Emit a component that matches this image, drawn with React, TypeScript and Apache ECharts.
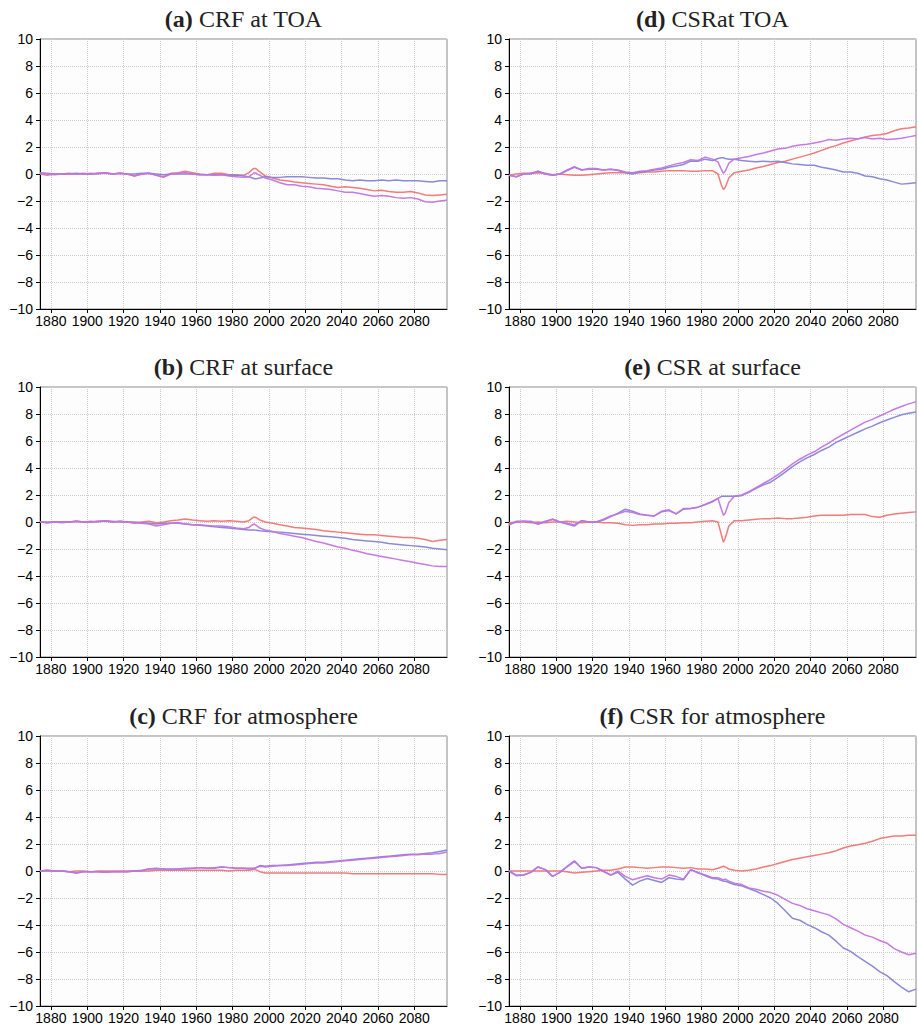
import React, { useEffect, useRef } from "react";
import * as echarts from "echarts";

// Sample years (4-year steps, denser around the 1991 eruption)
const years = [
  1874, 1878, 1882, 1886, 1890, 1894, 1898, 1902, 1906, 1910, 1914, 1918, 1922, 1926, 1930,
  1934, 1938, 1942, 1946, 1950, 1954, 1958, 1962, 1966, 1970, 1974, 1978, 1982, 1986,
  1989, 1991, 1992, 1993, 1995, 1998,
  2002, 2006, 2010, 2014, 2018, 2022, 2026, 2030, 2034, 2038, 2042, 2046, 2050, 2054, 2058,
  2062, 2066, 2070, 2074, 2078, 2082, 2086, 2090, 2094, 2098,
];

const xTicks = [1880, 1900, 1920, 1940, 1960, 1980, 2000, 2020, 2040, 2060, 2080];

const panelLetters = ["(a)", "(b)", "(c)", "(d)", "(e)", "(f)"];
const panelNames = [
  "CRF at TOA",
  "CRF at surface",
  "CRF for atmosphere",
  "CSRat TOA",
  "CSR at surface",
  "CSR for atmosphere",
];

// (a) CRF at TOA
const aRed = [
  0.0, -0.1, 0.0, 0.0, 0.05, 0.0, 0.05, 0.0, 0.05, 0.1, 0.0, 0.05, 0.0, -0.15, 0.0, 0.05, -0.1, -0.2, 0.05, 0.1, 0.2, 0.1, 0.0, -0.05, 0.05, 0.05, -0.05, -0.05, -0.1,
  0.1, 0.35, 0.42, 0.38, 0.15, -0.15,
  -0.3, -0.45, -0.5, -0.6, -0.65, -0.7, -0.75, -0.8, -0.9, -1.0, -0.95, -1.0, -1.05, -1.15, -1.25, -1.2, -1.3, -1.35, -1.35, -1.3, -1.4, -1.55, -1.6, -1.55, -1.5,
];
const aBlue = [
  0.1, 0.05, 0.0, 0.0, 0.0, 0.05, 0.0, 0.0, 0.05, 0.05, 0.0, 0.05, 0.0, 0.0, 0.05, 0.05, 0.0, -0.05, 0.0, 0.0, 0.0, 0.0, -0.05, -0.05, -0.05, -0.05, -0.1, -0.1, -0.15,
  -0.2, -0.3, -0.35, -0.35, -0.3, -0.2,
  -0.25, -0.25, -0.2, -0.2, -0.2, -0.25, -0.3, -0.3, -0.35, -0.35, -0.45, -0.5, -0.45, -0.5, -0.5, -0.45, -0.5, -0.45, -0.5, -0.5, -0.5, -0.55, -0.6, -0.5, -0.5,
];
const aPurple = [
  0.0, 0.0, -0.05, 0.0, 0.0, 0.0, 0.0, 0.05, 0.0, 0.1, 0.0, 0.05, 0.0, -0.15, 0.0, 0.05, -0.1, -0.25, 0.0, 0.05, 0.1, 0.0, -0.05, -0.05, -0.1, -0.05, -0.15, -0.2, -0.25,
  -0.2, 0.0, 0.1, 0.05, -0.1, -0.3,
  -0.45, -0.65, -0.8, -0.8, -0.9, -0.95, -1.05, -1.1, -1.15, -1.25, -1.35, -1.35, -1.45, -1.55, -1.65, -1.6, -1.65, -1.75, -1.8, -1.75, -1.85, -2.05, -2.1, -2.0, -1.95,
];

// (b) CRF at surface
const bRed = [
  0.0, -0.05, 0.0, 0.0, 0.0, 0.05, 0.0, 0.05, 0.0, 0.1, 0.05, 0.0, 0.0, -0.1, 0.0, 0.05, -0.05, 0.0, 0.1, 0.15, 0.22, 0.15, 0.1, 0.05, 0.1, 0.05, 0.1, 0.05, 0.0,
  0.1, 0.3, 0.37, 0.32, 0.15, 0.0,
  -0.1, -0.2, -0.3, -0.4, -0.45, -0.5, -0.55, -0.65, -0.7, -0.75, -0.8, -0.85, -0.9, -0.95, -0.95, -1.0, -1.05, -1.1, -1.15, -1.15, -1.2, -1.3, -1.45, -1.35, -1.3,
];
const bBlue = [
  0.0, 0.0, 0.0, 0.0, 0.0, 0.05, 0.0, 0.0, 0.05, 0.05, 0.0, 0.05, 0.0, 0.0, -0.05, -0.1, -0.15, -0.1, -0.1, -0.1, -0.15, -0.2, -0.25, -0.3, -0.35, -0.4, -0.45, -0.5, -0.55,
  -0.6, -0.6, -0.6, -0.62, -0.65, -0.68,
  -0.72, -0.75, -0.8, -0.85, -0.9, -0.95, -1.0, -1.05, -1.1, -1.15, -1.2, -1.3, -1.35, -1.4, -1.45, -1.5, -1.6, -1.65, -1.7, -1.75, -1.8, -1.85, -1.95, -2.0, -2.05,
];
const bPurple = [
  0.0, -0.05, 0.0, -0.05, 0.0, 0.05, 0.0, 0.0, 0.05, 0.1, 0.0, 0.05, 0.0, -0.05, -0.1, -0.15, -0.3, -0.2, -0.1, -0.05, -0.15, -0.2, -0.2, -0.25, -0.3, -0.3, -0.35, -0.45, -0.5,
  -0.4, -0.2, -0.15, -0.25, -0.45, -0.6,
  -0.7, -0.85, -0.95, -1.05, -1.15, -1.3, -1.45, -1.55, -1.7, -1.85, -1.95, -2.1, -2.2, -2.35, -2.45, -2.55, -2.65, -2.75, -2.85, -2.95, -3.05, -3.15, -3.25, -3.3, -3.3,
];

// (c) CRF for atmosphere
const cRed = [
  0.0, 0.0, 0.0, 0.0, -0.05, 0.0, 0.0, -0.05, 0.0, 0.0, 0.0, 0.0, 0.0, 0.0, 0.0, 0.0, 0.05, 0.05, 0.05, 0.05, 0.05, 0.05, 0.05, 0.05, 0.05, 0.05, 0.0, 0.05, 0.05,
  0.05, 0.1, 0.12, 0.08, -0.05, -0.15,
  -0.15, -0.15, -0.15, -0.15, -0.15, -0.15, -0.15, -0.15, -0.15, -0.15, -0.15, -0.2, -0.2, -0.2, -0.2, -0.2, -0.2, -0.2, -0.2, -0.2, -0.2, -0.2, -0.2, -0.25, -0.25,
];
const cBlue = [
  0.0, 0.05, 0.0, 0.0, -0.05, -0.15, -0.05, -0.05, -0.05, -0.1, -0.05, -0.05, -0.05, 0.0, 0.05, 0.15, 0.2, 0.15, 0.15, 0.15, 0.2, 0.2, 0.25, 0.2, 0.25, 0.3, 0.25, 0.2, 0.2,
  0.2, 0.2, 0.2, 0.25, 0.4, 0.35,
  0.4, 0.4, 0.45, 0.5, 0.55, 0.6, 0.65, 0.65, 0.7, 0.75, 0.8, 0.85, 0.9, 0.95, 1.0, 1.05, 1.1, 1.15, 1.2, 1.25, 1.25, 1.3, 1.35, 1.45, 1.55,
];
const cPurple = [
  0.0, 0.05, 0.0, 0.0, -0.05, -0.15, -0.05, -0.05, -0.05, -0.1, -0.05, -0.05, -0.05, 0.0, 0.0, 0.15, 0.15, 0.15, 0.1, 0.15, 0.15, 0.2, 0.25, 0.2, 0.2, 0.3, 0.25, 0.2, 0.2,
  0.15, 0.15, 0.2, 0.25, 0.35, 0.3,
  0.35, 0.4, 0.4, 0.45, 0.5, 0.55, 0.6, 0.6, 0.65, 0.7, 0.75, 0.8, 0.85, 0.9, 0.95, 1.0, 1.05, 1.1, 1.15, 1.2, 1.2, 1.25, 1.25, 1.3, 1.4,
];

// (d) CSR at TOA
const dRed = [
  -0.1, 0.0, 0.05, 0.05, 0.1, 0.05, -0.05, 0.0, -0.05, -0.1, -0.1, -0.05, 0.0, 0.05, 0.1, 0.1, 0.1, 0.1, 0.1, 0.15, 0.15, 0.2, 0.25, 0.25, 0.25, 0.2, 0.2, 0.25, 0.25,
  0.0, -0.85, -1.15, -1.0, -0.3, 0.1,
  0.2, 0.3, 0.45, 0.55, 0.7, 0.85, 0.95, 1.1, 1.25, 1.4, 1.55, 1.75, 1.95, 2.1, 2.3, 2.45, 2.6, 2.75, 2.85, 2.9, 3.0, 3.2, 3.35, 3.4, 3.5,
];
const dBlue = [
  -0.1, -0.2, 0.0, 0.0, 0.2, 0.0, -0.1, 0.0, 0.25, 0.5, 0.3, 0.35, 0.35, 0.3, 0.35, 0.25, 0.1, 0.0, 0.15, 0.2, 0.3, 0.35, 0.5, 0.6, 0.7, 0.95, 0.95, 1.1, 1.0,
  1.15, 1.2, 1.2, 1.15, 1.1, 1.1,
  1.0, 0.95, 0.9, 0.95, 0.9, 0.95, 0.85, 0.75, 0.7, 0.65, 0.65, 0.5, 0.4, 0.3, 0.15, 0.15, 0.05, -0.15, -0.2, -0.35, -0.45, -0.6, -0.75, -0.7, -0.65,
];
const dPurple = [
  -0.1, -0.2, 0.0, 0.05, 0.2, 0.0, -0.1, 0.0, 0.3, 0.55, 0.3, 0.4, 0.4, 0.3, 0.35, 0.3, 0.15, 0.1, 0.2, 0.25, 0.35, 0.45, 0.6, 0.75, 0.85, 1.05, 1.0, 1.25, 1.1,
  0.9, 0.3, 0.05, 0.2, 0.8, 1.1,
  1.2, 1.3, 1.45, 1.55, 1.7, 1.85, 1.9, 2.05, 2.15, 2.2, 2.3, 2.4, 2.55, 2.5, 2.6, 2.65, 2.6, 2.7, 2.6, 2.65, 2.55, 2.6, 2.65, 2.75, 2.85,
];

// (e) CSR at surface
const eRed = [
  -0.05, 0.0, 0.0, -0.05, 0.0, -0.05, 0.0, 0.0, 0.05, 0.0, -0.05, 0.0, 0.0, -0.05, -0.05, -0.1, -0.2, -0.25, -0.2, -0.2, -0.15, -0.15, -0.1, -0.1, -0.05, -0.05, 0.0, 0.05, 0.1,
  0.0, -1.0, -1.5, -1.2, -0.3, 0.1,
  0.1, 0.15, 0.2, 0.25, 0.25, 0.3, 0.25, 0.25, 0.3, 0.35, 0.45, 0.5, 0.5, 0.5, 0.5, 0.55, 0.55, 0.55, 0.4, 0.35, 0.5, 0.6, 0.65, 0.7, 0.75,
];
const eBlue = [
  -0.2, 0.05, 0.05, 0.0, -0.15, 0.05, 0.2, 0.0, -0.15, -0.3, 0.1, 0.0, 0.0, 0.15, 0.4, 0.65, 0.95, 0.8, 0.6, 0.5, 0.45, 0.75, 0.85, 0.6, 0.95, 1.0, 1.1, 1.3, 1.5,
  1.75, 1.9, 1.9, 1.9, 1.9, 1.9,
  1.95, 2.2, 2.5, 2.75, 2.95, 3.3, 3.7, 4.1, 4.45, 4.75, 5.0, 5.3, 5.55, 5.9, 6.15, 6.4, 6.65, 6.9, 7.1, 7.35, 7.55, 7.75, 7.95, 8.05, 8.15,
];
const ePurple = [
  -0.2, 0.0, 0.05, 0.05, -0.15, 0.0, 0.2, 0.0, -0.1, -0.2, 0.1, 0.0, 0.0, 0.2, 0.45, 0.6, 0.8, 0.7, 0.55, 0.5, 0.45, 0.8, 0.9, 0.6, 1.0, 1.0, 1.1, 1.3, 1.55,
  1.75, 0.9, 0.5, 0.65, 1.45, 1.9,
  2.0, 2.25, 2.55, 2.85, 3.15, 3.5, 3.9, 4.3, 4.65, 4.95, 5.2, 5.55, 5.85, 6.2, 6.5, 6.8, 7.1, 7.4, 7.6, 7.85, 8.1, 8.35, 8.55, 8.75, 8.9,
];

// (f) CSR for atmosphere
const fRed = [
  0.0, 0.0, 0.0, 0.0, 0.0, 0.0, 0.0, 0.0, -0.05, -0.15, -0.1, -0.05, 0.0, 0.05, 0.05, 0.15, 0.3, 0.3, 0.25, 0.2, 0.25, 0.3, 0.3, 0.25, 0.2, 0.25, 0.15, 0.15, 0.1,
  0.2, 0.3, 0.35, 0.3, 0.15, 0.05,
  0.0, 0.05, 0.15, 0.3, 0.4, 0.55, 0.7, 0.85, 0.95, 1.05, 1.15, 1.25, 1.35, 1.5, 1.7, 1.85, 1.95, 2.05, 2.2, 2.4, 2.5, 2.6, 2.6, 2.65, 2.65,
];
const fBlue = [
  0.0, -0.35, -0.3, -0.1, 0.3, 0.1, -0.4, -0.1, 0.35, 0.75, 0.2, 0.3, 0.25, -0.05, -0.3, -0.1, -0.6, -1.05, -0.75, -0.55, -0.7, -0.85, -0.5, -0.6, -0.65, 0.1, -0.1, -0.35, -0.55,
  -0.6, -0.7, -0.75, -0.75, -0.85, -1.0,
  -1.1, -1.3, -1.5, -1.75, -2.0, -2.4, -2.95, -3.5, -3.65, -3.95, -4.2, -4.5, -4.75, -5.2, -5.7, -5.95, -6.35, -6.7, -7.05, -7.45, -7.75, -8.2, -8.6, -8.95, -8.75,
];
const fPurple = [
  0.0, -0.3, -0.3, -0.1, 0.3, 0.1, -0.4, -0.1, 0.3, 0.7, 0.2, 0.3, 0.25, 0.0, -0.3, 0.0, -0.4, -0.65, -0.5, -0.35, -0.5, -0.6, -0.3, -0.4, -0.6, 0.1, -0.15, -0.3, -0.5,
  -0.5, -0.6, -0.65, -0.6, -0.75, -0.9,
  -1.0, -1.25, -1.35, -1.5, -1.6, -1.8, -2.1, -2.4, -2.55, -2.8, -2.95, -3.1, -3.25, -3.55, -3.95, -4.2, -4.45, -4.75, -4.9, -5.15, -5.35, -5.75, -6.0, -6.2, -6.1,
];

const panelSeries = [
  [aRed, aBlue, aPurple],
  [bRed, bBlue, bPurple],
  [cRed, cBlue, cPurple],
  [dRed, dBlue, dPurple],
  [eRed, eBlue, ePurple],
  [fRed, fBlue, fPurple],
];

const lineColors = ["#f27474", "#8484d6", "#c473e2"];

export default function App() {
  const ref = useRef<HTMLDivElement>(null);

  useEffect(() => {
    document.body.style.margin = "0";
    if (!ref.current) return;
    const chart = echarts.init(ref.current, undefined, { renderer: "svg" });

    const colLeft = [40, 509];
    const rowTop = [39, 387, 736];
    const gw = 407;
    const gh = 270;

    const grids: any[] = [];
    const xAxes: any[] = [];
    const yAxes: any[] = [];
    const series: any[] = [];
    const graphics: any[] = [];

    for (let p = 0; p < 6; p++) {
      const col = p < 3 ? 0 : 1;
      const row = p % 3;
      const left = colLeft[col];
      const top = rowTop[row];
      grids.push({
        left,
        top,
        width: gw,
        height: gh,
        show: true,
        borderColor: "#8a8a8a",
        borderWidth: 1,
        backgroundColor: "#fdfdfd",
        containLabel: false,
      });
      xAxes.push({
        type: "value",
        gridIndex: p,
        min: 1874,
        max: 2098,
        axisLine: { show: true, onZero: false, lineStyle: { color: "#000", width: 1 } },
        axisTick: { show: true, length: 4, customValues: xTicks, lineStyle: { color: "#000" } },
        axisLabel: {
          customValues: xTicks,
          fontSize: 14,
          fontFamily: "Liberation Sans",
          color: "#000",
          margin: 5,
          formatter: (v: number) => String(v),
        },
        splitLine: { show: true, lineStyle: { type: "dotted", color: "#cccccc", width: 1 } },
      });
      yAxes.push({
        type: "value",
        gridIndex: p,
        min: -10,
        max: 10,
        interval: 2,
        axisLine: { show: true, onZero: false, lineStyle: { color: "#000", width: 1 } },
        axisTick: { show: true, length: 4, lineStyle: { color: "#000" } },
        axisLabel: {
          fontSize: 14,
          fontFamily: "Liberation Sans",
          color: "#000",
          margin: 7,
          formatter: (v: number) => (v < 0 ? "\u2212" + Math.abs(v) : String(v)),
        },
        splitLine: { show: true, lineStyle: { type: "dotted", color: "#cccccc", width: 1 } },
      });
      panelSeries[p].forEach((vals, k) => {
        series.push({
          type: "line",
          xAxisIndex: p,
          yAxisIndex: p,
          data: years.map((y, i) => [y, vals[i]]),
          symbol: "none",
          smooth: false,
          lineStyle: { color: lineColors[k], width: 1.5, opacity: 0.95 },
          z: 3 + k,
        });
      });
      graphics.push({
        type: "text",
        x: left + gw / 2,
        y: top - 20,
        style: {
          text: "{b|" + panelLetters[p] + "} {n|" + panelNames[p] + "}",
          rich: {
            b: { fontWeight: "bold", fontSize: 24, fontFamily: "Liberation Serif", fill: "#222" },
            n: { fontSize: 24, fontFamily: "Liberation Serif", fill: "#222" },
          },
          fontSize: 24,
          fontFamily: "Liberation Serif",
          fill: "#222",
          align: "center",
          verticalAlign: "middle",
        },
      });
    }

    chart.setOption({
      animation: false,
      backgroundColor: "#ffffff",
      grid: grids,
      xAxis: xAxes,
      yAxis: yAxes,
      series,
      graphic: graphics,
    });

    return () => chart.dispose();
  }, []);

  return <div ref={ref} style={{ width: 918, height: 1028 }} />;
}
